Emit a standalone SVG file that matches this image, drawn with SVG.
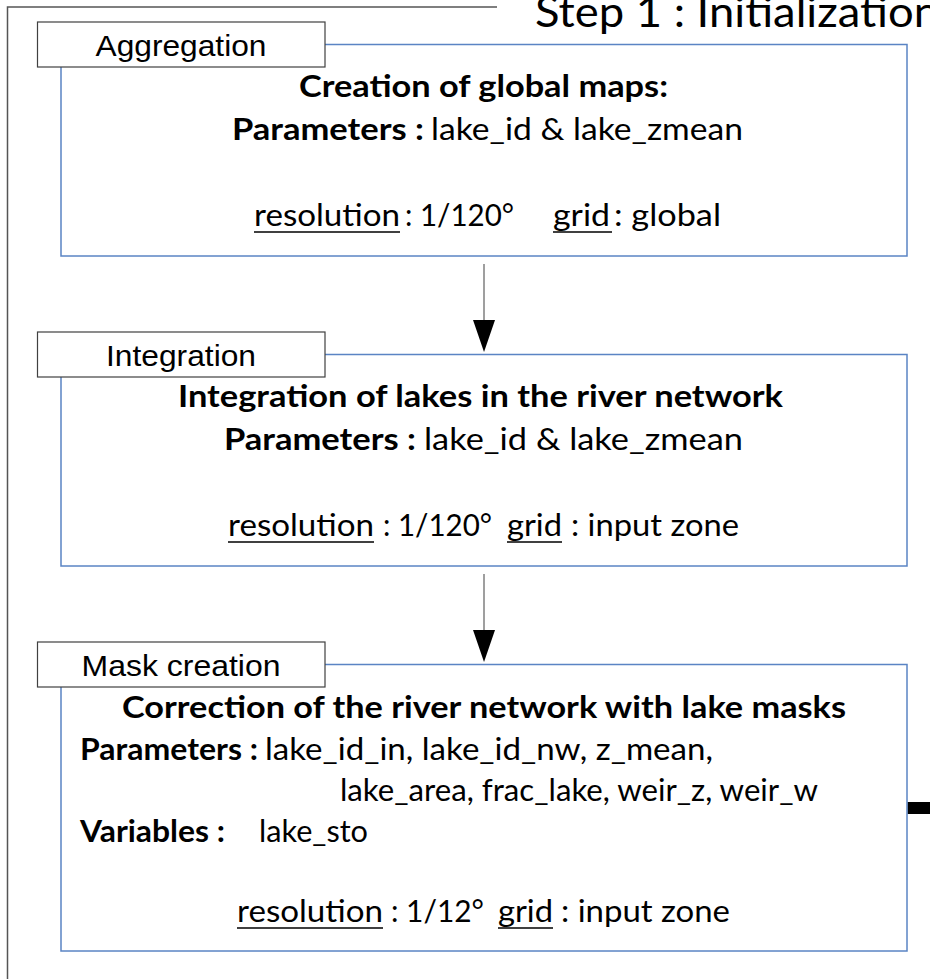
<svg xmlns="http://www.w3.org/2000/svg" width="930" height="979" viewBox="0 0 930 979">
  <defs>
    <style>
      .frame { fill: none; stroke: #555555; stroke-width: 1.5; }
      .panel { fill: #ffffff; stroke: #5a84c4; stroke-width: 1.5; }
      .tab { fill: #ffffff; stroke: #404040; stroke-width: 1.2; }
      .tabtext { font-family: "Liberation Sans Narrow", "Liberation Sans", Arial, sans-serif; font-size: 30px; fill: #000; }
      .b { font-family: Lato, "Open Sans", "Noto Sans", sans-serif; font-weight: bold; font-size: 31px; fill: #000; }
      .r { font-family: Lato, "Open Sans", "Noto Sans", sans-serif; font-size: 31px; fill: #000; }
      .title { font-family: Lato, "Open Sans", "Noto Sans", sans-serif; font-size: 42px; fill: #000; }
      .ul { stroke: #000; stroke-width: 1.5; }
      .shaft { stroke: #7f7f7f; stroke-width: 1.5; }
    </style>
  </defs>

  <rect width="930" height="979" fill="#ffffff"/>

  <!-- step frame -->
  <g id="step-frame">
    <path class="frame" d="M497,7 H7.5 V979"/>
    <text class="title" x="535" y="27" textLength="404" lengthAdjust="spacingAndGlyphs">Step 1 : Initialization</text>
  </g>

  <!-- connectors -->
  <g id="connectors">
    <line class="shaft" x1="484" y1="264" x2="484" y2="322"/>
    <polygon points="473,320 495,320 484,352" fill="#000"/>
    <line class="shaft" x1="484" y1="574" x2="484" y2="632"/>
    <polygon points="473,630 495,630 484,662" fill="#000"/>
    <rect x="907.5" y="802" width="23" height="12" fill="#000"/>
  </g>

  <!-- aggregation -->
  <g id="aggregation">
    <rect class="panel" x="61" y="44.5" width="846" height="211.5"/>
    <rect class="tab" x="37.5" y="22" width="287.5" height="45"/>
    <text class="tabtext" x="181" y="56" text-anchor="middle" textLength="171" lengthAdjust="spacingAndGlyphs">Aggregation</text>
    <text class="b" x="299" y="97" textLength="369" lengthAdjust="spacingAndGlyphs">Creation of global maps:</text>
    <text class="b" x="232" y="140" textLength="192" lengthAdjust="spacingAndGlyphs">Parameters :</text>
    <text class="r" x="431" y="140" textLength="312" lengthAdjust="spacingAndGlyphs">lake_id &amp; lake_zmean</text>
    <text class="r" x="254" y="226" textLength="146" lengthAdjust="spacingAndGlyphs">resolution</text>
    <text class="r" x="405" y="226" textLength="109" lengthAdjust="spacingAndGlyphs">: 1/120°</text>
    <text class="r" x="553" y="226" textLength="57" lengthAdjust="spacingAndGlyphs">grid</text>
    <text class="r" x="614" y="226" textLength="107" lengthAdjust="spacingAndGlyphs">: global</text>
    <line class="ul" x1="254" y1="232" x2="400" y2="232"/>
    <line class="ul" x1="553" y1="232" x2="612" y2="232"/>
  </g>

  <!-- integration -->
  <g id="integration">
    <rect class="panel" x="61" y="354.5" width="846" height="211.5"/>
    <rect class="tab" x="37.5" y="332" width="287.5" height="45"/>
    <text class="tabtext" x="181" y="366" text-anchor="middle" textLength="150" lengthAdjust="spacingAndGlyphs">Integration</text>
    <text class="b" x="178" y="407" textLength="605" lengthAdjust="spacingAndGlyphs">Integration of lakes in the river network</text>
    <text class="b" x="224" y="450" textLength="192" lengthAdjust="spacingAndGlyphs">Parameters :</text>
    <text class="r" x="424" y="450" textLength="319" lengthAdjust="spacingAndGlyphs">lake_id  &amp; lake_zmean</text>
    <text class="r" x="228" y="536" textLength="146" lengthAdjust="spacingAndGlyphs">resolution</text>
    <text class="r" x="383" y="536" textLength="109" lengthAdjust="spacingAndGlyphs">: 1/120°</text>
    <text class="r" x="507" y="536" textLength="55" lengthAdjust="spacingAndGlyphs">grid</text>
    <text class="r" x="571" y="536" textLength="168" lengthAdjust="spacingAndGlyphs">: input zone</text>
    <line class="ul" x1="228" y1="542" x2="374" y2="542"/>
    <line class="ul" x1="507" y1="542" x2="562" y2="542"/>
  </g>

  <!-- mask creation -->
  <g id="mask-creation">
    <rect class="panel" x="61" y="664.5" width="846" height="286.5"/>
    <rect class="tab" x="37.5" y="642" width="287.5" height="45"/>
    <text class="tabtext" x="181" y="676" text-anchor="middle" textLength="199" lengthAdjust="spacingAndGlyphs">Mask creation</text>
    <text class="b" x="122" y="718" textLength="724" lengthAdjust="spacingAndGlyphs">Correction of the river network with lake masks</text>
    <text class="b" x="80" y="760" textLength="178" lengthAdjust="spacingAndGlyphs">Parameters :</text>
    <text class="r" x="265" y="760" textLength="448" lengthAdjust="spacingAndGlyphs">lake_id_in, lake_id_nw, z_mean,</text>
    <text class="r" x="340" y="801" textLength="478" lengthAdjust="spacingAndGlyphs">lake_area, frac_lake, weir_z, weir_w</text>
    <text class="b" x="80" y="842" textLength="145" lengthAdjust="spacingAndGlyphs">Variables :</text>
    <text class="r" x="259" y="842" textLength="109" lengthAdjust="spacingAndGlyphs">lake_sto</text>
    <text class="r" x="237" y="922" textLength="146" lengthAdjust="spacingAndGlyphs">resolution</text>
    <text class="r" x="391" y="922" textLength="93" lengthAdjust="spacingAndGlyphs">: 1/12°</text>
    <text class="r" x="498" y="922" textLength="55" lengthAdjust="spacingAndGlyphs">grid</text>
    <text class="r" x="561" y="922" textLength="169" lengthAdjust="spacingAndGlyphs">: input zone</text>
    <line class="ul" x1="237" y1="928" x2="383" y2="928"/>
    <line class="ul" x1="498" y1="928" x2="553" y2="928"/>
  </g>
</svg>
